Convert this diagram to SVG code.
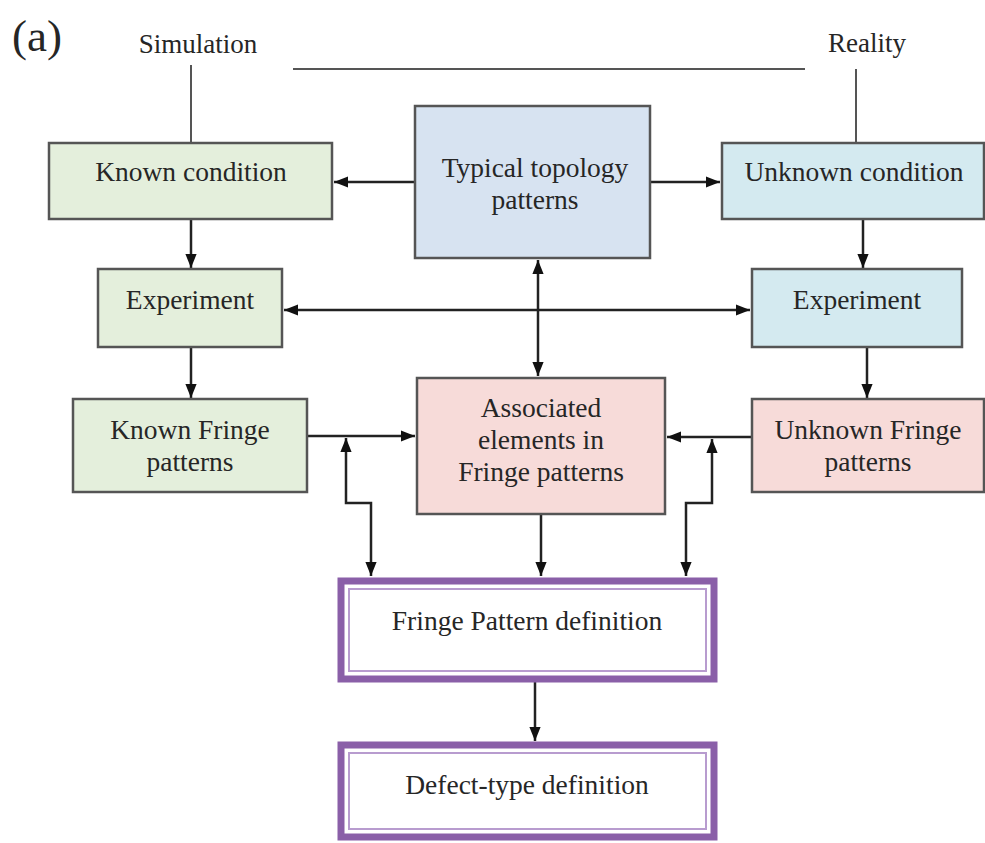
<svg xmlns="http://www.w3.org/2000/svg" width="985" height="843" viewBox="0 0 985 843">
<style>
text{font-family:"Liberation Serif","Times New Roman",serif;fill:#262626;text-anchor:middle}
.t{font-size:27.5px}
.lab{font-size:27px}
.box{stroke:#555;stroke-width:2.5}
.c{fill:none;stroke:#222;stroke-width:2.5}
.ln{fill:none;stroke:#555;stroke-width:2}
.po{fill:#fff;stroke:#8a5fa8;stroke-width:7}
.pi{fill:none;stroke:#b89ccf;stroke-width:2}
</style>
<defs>
<marker id="b" viewBox="0 0 10 10" refX="10" refY="5" markerWidth="14" markerHeight="14" orient="auto-start-reverse" markerUnits="userSpaceOnUse">
<path d="M0,1 L10,5 L0,9 z" fill="#111"/>
</marker>
</defs>
<rect width="985" height="843" fill="#fff"/>
<text x="37" y="51" style="font-size:45px">(a)</text>
<text class="lab" x="198" y="53">Simulation</text>
<text class="lab" x="867" y="52">Reality</text>
<g id="connectors">
<line class="ln" x1="191" y1="65" x2="191" y2="143"/>
<line class="ln" x1="293" y1="69" x2="805" y2="69"/>
<line class="ln" x1="856" y1="69" x2="856" y2="143"/>
<line class="c" x1="415" y1="182" x2="334" y2="182" marker-end="url(#b)"/>
<line class="c" x1="650" y1="182" x2="720" y2="182" marker-end="url(#b)"/>
<line class="c" x1="191" y1="219" x2="191" y2="268" marker-end="url(#b)"/>
<line class="c" x1="863" y1="219" x2="863" y2="268" marker-end="url(#b)"/>
<line class="c" x1="284" y1="310" x2="750" y2="310" marker-start="url(#b)" marker-end="url(#b)"/>
<line class="c" x1="538" y1="260" x2="538" y2="376" marker-start="url(#b)" marker-end="url(#b)"/>
<line class="c" x1="191" y1="347" x2="191" y2="398" marker-end="url(#b)"/>
<line class="c" x1="867" y1="347" x2="867" y2="398" marker-end="url(#b)"/>
<line class="c" x1="307" y1="436" x2="415" y2="436" marker-end="url(#b)"/>
<line class="c" x1="752" y1="437" x2="667" y2="437" marker-end="url(#b)"/>
<path class="c" d="M346,438 V503 H371 V576" marker-start="url(#b)" marker-end="url(#b)"/>
<path class="c" d="M712,439 V503 H686 V576" marker-start="url(#b)" marker-end="url(#b)"/>
<line class="c" x1="541" y1="514" x2="541" y2="576" marker-end="url(#b)"/>
<line class="c" x1="535" y1="682" x2="535" y2="741" marker-end="url(#b)"/>
</g>
<g id="known-condition">
<rect class="box" x="49" y="143" width="283" height="76" fill="#e4efdc"/>
<text class="t" x="191" y="181">Known condition</text>
</g>
<g id="typical-topology">
<rect class="box" x="415" y="106" width="235" height="152" fill="#d7e3f1"/>
<text class="t" x="535" y="177">Typical topology</text>
<text class="t" x="535" y="209">patterns</text>
</g>
<g id="unknown-condition">
<rect class="box" x="722" y="143" width="262" height="76" fill="#d4eaf0"/>
<text class="t" x="854" y="181">Unknown condition</text>
</g>
<g id="experiment-left">
<rect class="box" x="98" y="269" width="184" height="78" fill="#e4efdc"/>
<text class="t" x="190" y="309">Experiment</text>
</g>
<g id="experiment-right">
<rect class="box" x="752" y="269" width="210" height="78" fill="#d4eaf0"/>
<text class="t" x="857" y="309">Experiment</text>
</g>
<g id="known-fringe">
<rect class="box" x="73" y="399" width="234" height="93" fill="#e4efdc"/>
<text class="t" x="190" y="439">Known Fringe</text>
<text class="t" x="190" y="471">patterns</text>
</g>
<g id="associated">
<rect class="box" x="417" y="378" width="248" height="136" fill="#f7dbd9"/>
<text class="t" x="541" y="417">Associated</text>
<text class="t" x="541" y="449">elements in</text>
<text class="t" x="541" y="481">Fringe patterns</text>
</g>
<g id="unknown-fringe">
<rect class="box" x="752" y="399" width="232" height="93" fill="#f7dbd9"/>
<text class="t" x="868" y="439">Unknown Fringe</text>
<text class="t" x="868" y="471">patterns</text>
</g>
<g id="fringe-def">
<rect class="po" x="341" y="581" width="373" height="98"/>
<rect class="pi" x="349" y="589" width="357" height="82"/>
<text class="t" x="527" y="630">Fringe Pattern definition</text>
</g>
<g id="defect-def">
<rect class="po" x="341" y="745" width="373" height="92"/>
<rect class="pi" x="349" y="753" width="357" height="76"/>
<text class="t" x="527" y="794">Defect-type definition</text>
</g>
</svg>
